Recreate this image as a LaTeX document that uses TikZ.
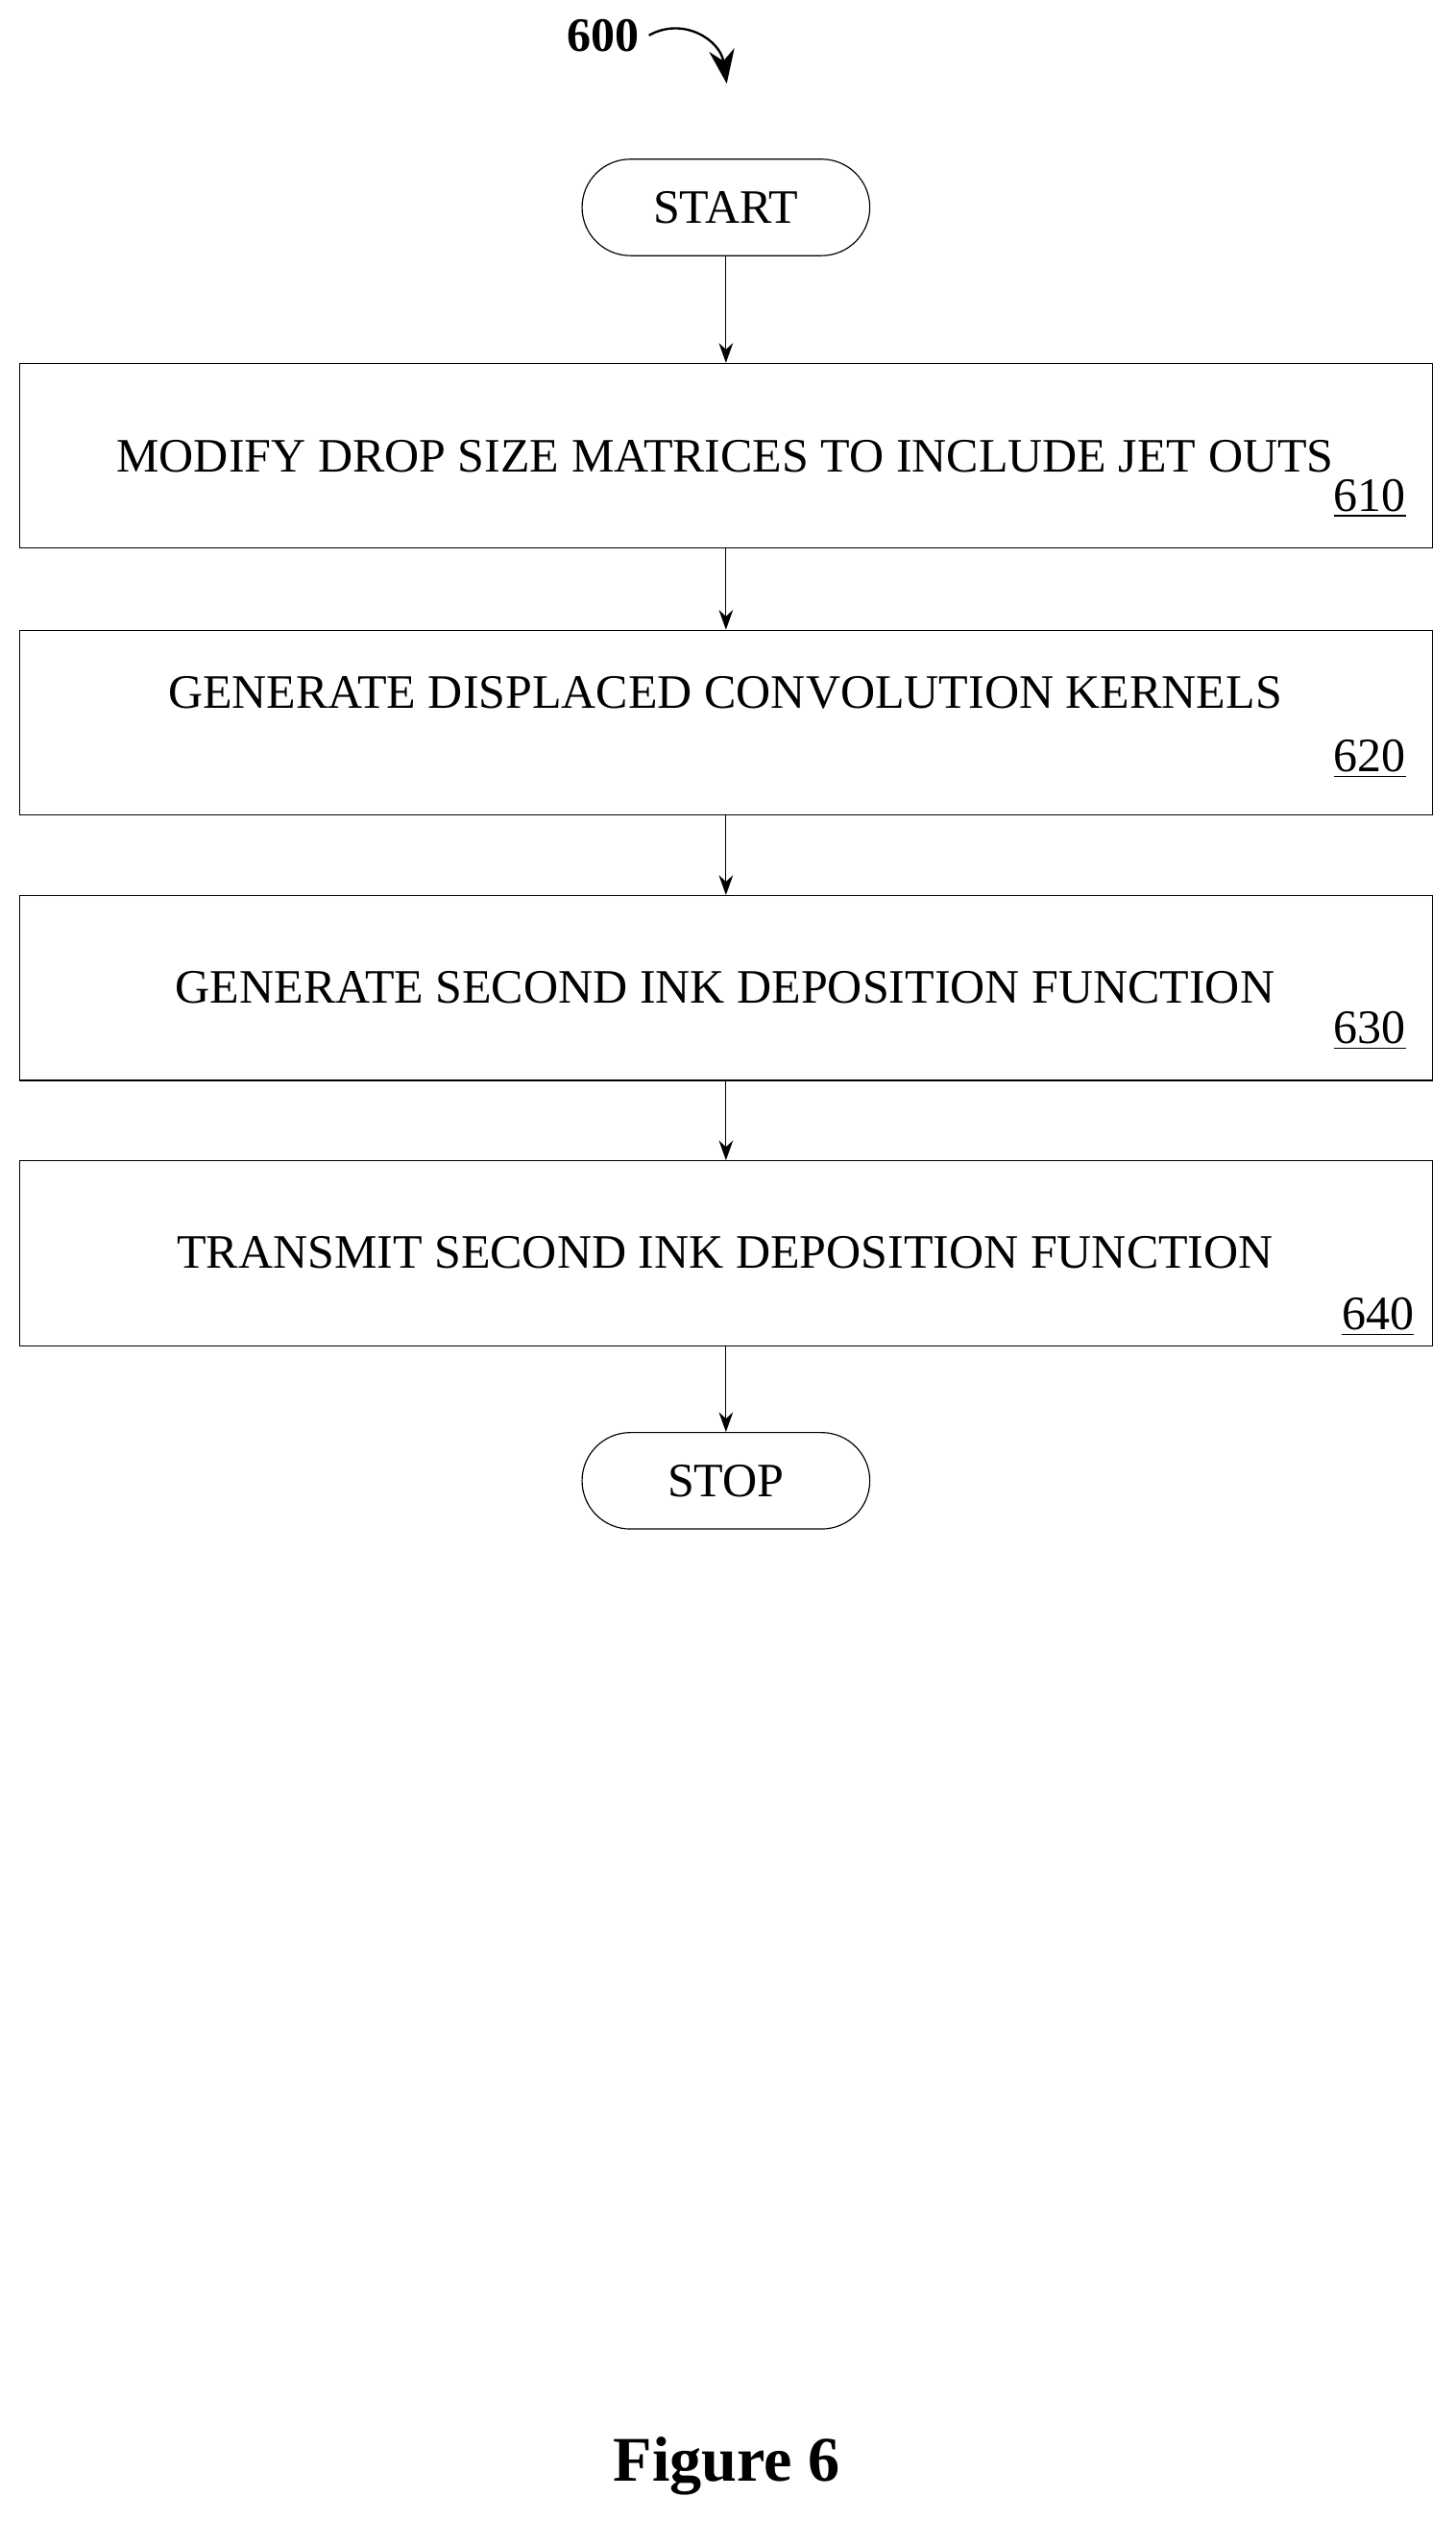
\documentclass[tikz,border=0pt]{standalone}
\usepackage{fontspec}
\setmainfont{Liberation Serif}
\usetikzlibrary{positioning, arrows.meta, calc}

\begin{document}
\begin{tikzpicture}[
    x=0.02cm, y=-0.02cm,
    process/.style={rectangle, draw, minimum width=17.58cm, minimum height=2.3cm},
    term/.style={rectangle, draw, rounded corners=0.6cm, minimum width=3.58cm, minimum height=1.2cm, font=\fontsize{17}{20}\selectfont},
    steptext/.style={font=\fontsize{17}{20}\selectfont},
    ref/.style={font=\fontsize{17}{20}\selectfont},
    arrow/.style={-{Stealth[length=7pt, width=5pt]}}
]
\useasboundingbox (0,0) rectangle (905,1568);

% Figure number
\node[font=\fontsize{17}{20}\selectfont\bfseries] (fignum) at (375,22) {600};
\coordinate (fighead) at (452,52);

% Terminals
\node[term] (start) at (451.5,129) {START};
\node[term] (stop) at (451.5,921) {STOP};

% Steps
\node[process] (s610) at (451.5,283.5) {};
\node[process] (s620) at (451.5,449.5) {};
\node[process] (s630) at (451.5,614.5) {};
\node[process] (s640) at (451.5,779.5) {};

% Step texts
\node[steptext] (t610) at (451,284) {MODIFY DROP SIZE MATRICES TO INCLUDE JET OUTS};
\node[steptext] (t620) at (451,431) {GENERATE DISPLACED CONVOLUTION KERNELS};
\node[steptext] (t630) at (451,614) {GENERATE SECOND INK DEPOSITION FUNCTION};
\node[steptext] (t640) at (451,779) {TRANSMIT SECOND INK DEPOSITION FUNCTION};

% Reference numerals
\node[ref] (r610) at (852,310) {\underline{610}};
\node[ref] (r620) at (852,472) {\underline{620}};
\node[ref] (r630) at (852,641) {\underline{630}};
\node[ref] (r640) at (857,819) {\underline{640}};

% Arrows
\draw[-{Stealth[length=12pt, width=9pt]}, thick] (fignum.east) .. controls (425,10) and (448,25) .. (fighead);
\draw[arrow] (start) -- (s610);
\draw[arrow] (s610) -- (s620);
\draw[arrow] (s620) -- (s630);
\draw[arrow] (s630) -- (s640);
\draw[arrow] (s640) -- (stop);

% Caption
\node[font=\fontsize{22.5}{27}\selectfont\bfseries] (caption) at (452,1534) {Figure 6};
\end{tikzpicture}
\end{document}
